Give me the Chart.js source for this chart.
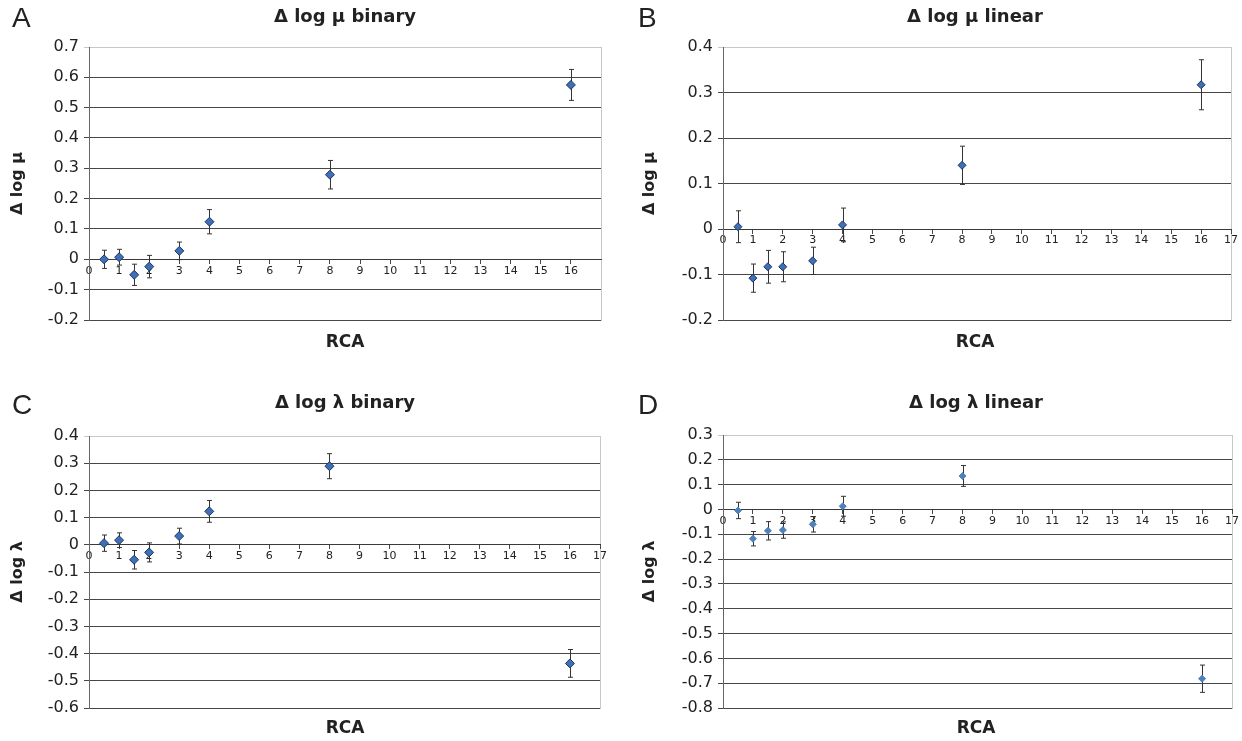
<!DOCTYPE html>
<html>
<head>
<meta charset="utf-8">
<script src="https://cdn.jsdelivr.net/npm/chart.js@4/dist/chart.umd.min.js"></script>
<style>
  body { margin: 0; background: #fff; }
  #page { position: relative; width: 1242px; height: 741px; overflow: hidden; font-family: "DejaVu Sans", sans-serif; color: #222; }
  .panel { position: absolute; }
  .letter { position: absolute; font-family: "Liberation Sans", sans-serif; font-size: 28px; line-height: 1; color: #222; }
  .title { position: absolute; font-weight: bold; font-size: 18px; line-height: 1; transform: translateX(-50%); white-space: nowrap; }
  .xlabel { position: absolute; font-weight: bold; font-size: 17px; line-height: 1; transform: translateX(-50%); }
</style>
</head>
<body>
<div id="page">
  <div class="panel" style="left:0;top:0"><canvas id="chartA" width="621" height="360"></canvas></div>
  <div class="panel" style="left:621px;top:0"><canvas id="chartB" width="621" height="360"></canvas></div>
  <div class="panel" style="left:0;top:360px"><canvas id="chartC" width="621" height="381"></canvas></div>
  <div class="panel" style="left:621px;top:360px"><canvas id="chartD" width="621" height="381"></canvas></div>

  <div class="letter" style="left:12px;top:4px">A</div>
  <div class="letter" style="left:638px;top:4px">B</div>
  <div class="letter" style="left:12px;top:391px">C</div>
  <div class="letter" style="left:638px;top:391px">D</div>

  <div class="title" style="left:345px;top:7px">Δ log μ binary</div>
  <div class="title" style="left:975px;top:7px">Δ log μ linear</div>
  <div class="title" style="left:345px;top:393px">Δ log λ binary</div>
  <div class="title" style="left:976px;top:393px">Δ log λ linear</div>

  <div class="xlabel" style="left:345px;top:333px">RCA</div>
  <div class="xlabel" style="left:975px;top:333px">RCA</div>
  <div class="xlabel" style="left:345px;top:719px">RCA</div>
  <div class="xlabel" style="left:976px;top:719px">RCA</div>
</div>

<script>
// RCA values shared by all four panels
const rca = [0.5, 1, 1.5, 2, 3, 4, 8, 16];

// Δ log μ, binary and linear (means and half-widths of the error bars)
const muBinary = [0.000, 0.007, -0.051, -0.024, 0.028, 0.124, 0.279, 0.575];
const muBinaryErr = [0.030, 0.026, 0.035, 0.037, 0.029, 0.040, 0.047, 0.051];
const muLinear = [0.005, -0.108, -0.083, -0.083, -0.070, 0.009, 0.140, 0.317];
const muLinearErr = [0.035, 0.031, 0.036, 0.033, 0.030, 0.037, 0.042, 0.055];

// Δ log λ, binary and linear
const lambdaBinary = [0.006, 0.017, -0.055, -0.028, 0.032, 0.123, 0.289, -0.436];
const lambdaBinaryErr = [0.030, 0.027, 0.034, 0.035, 0.029, 0.040, 0.046, 0.051];
const lambdaLinear = [-0.004, -0.118, -0.086, -0.083, -0.060, 0.013, 0.135, -0.682];
const lambdaLinearErr = [0.033, 0.029, 0.037, 0.033, 0.031, 0.040, 0.042, 0.055];

// tick labels
const xTicksA = [0, 1, 2, 3, 4, 5, 6, 7, 8, 9, 10, 11, 12, 13, 14, 15, 16];
const xTicks = [0, 1, 2, 3, 4, 5, 6, 7, 8, 9, 10, 11, 12, 13, 14, 15, 16, 17];
const yTicksA = [-0.2, -0.1, 0, 0.1, 0.2, 0.3, 0.4, 0.5, 0.6, 0.7];
const yTicksB = [-0.2, -0.1, 0, 0.1, 0.2, 0.3, 0.4];
const yTicksC = [-0.6, -0.5, -0.4, -0.3, -0.2, -0.1, 0, 0.1, 0.2, 0.3, 0.4];
const yTicksD = [-0.8, -0.7, -0.6, -0.5, -0.4, -0.3, -0.2, -0.1, 0, 0.1, 0.2, 0.3];

const GRID = '#474747';
const FRAME = '#c8c8c8';

// light frame round the plot area (right edge), drawn under the grid
const framePlugin = {
  id: 'frame',
  beforeDraw(chart) {
    const { ctx, chartArea: a } = chart;
    ctx.save();
    ctx.strokeStyle = FRAME;
    ctx.lineWidth = 1;
    ctx.strokeRect(a.left + 0.5, a.top + 0.5, a.right - a.left, a.bottom - a.top);
    ctx.restore();
  },
};

// vertical error bars with small caps, drawn before the markers
const errorBarPlugin = {
  id: 'errorBars',
  beforeDatasetsDraw(chart) {
    const { ctx, scales: { x, y } } = chart;
    ctx.save();
    ctx.strokeStyle = '#333';
    ctx.lineWidth = 1;
    chart.data.datasets.forEach(ds => {
      ds.data.forEach((p, i) => {
        const e = ds.errors[i];
        const px = Math.round(x.getPixelForValue(p.x)) + 0.5;
        const top = y.getPixelForValue(p.y + e);
        const bot = y.getPixelForValue(p.y - e);
        ctx.beginPath();
        ctx.moveTo(px, top); ctx.lineTo(px, bot);
        ctx.moveTo(px - 2.5, top); ctx.lineTo(px + 2.5, top);
        ctx.moveTo(px - 2.5, bot); ctx.lineTo(px + 2.5, bot);
        ctx.stroke();
      });
    });
    ctx.restore();
  },
};

function makeChart(id, values, errors, yTicks, xTickList, yTitle, layout) {
  const ctx = document.getElementById(id);
  return new Chart(ctx, {
    type: 'scatter',
    data: {
      datasets: [
        {
          data: rca.map((r, i) => ({ x: r, y: values[i] })),
          errors: errors,
          pointStyle: 'rectRot',
          pointRadius: layout.radius,
          backgroundColor: layout.fill,
          borderColor: layout.edge,
          borderWidth: 1,
        },
      ],
    },
    options: {
      responsive: false,
      animation: false,
      layout: { padding: layout.padding },
      plugins: { legend: { display: false }, tooltip: { enabled: false } },
      scales: {
        x: {
          type: 'linear',
          position: { y: 0 },
          min: 0,
          max: 17,
          afterBuildTicks: s => { s.ticks = xTickList.map(v => ({ value: v })); },
          afterFit: s => { s.height = 0; },
          grid: { drawOnChartArea: false, drawTicks: true, tickLength: 4, color: GRID },
          border: { display: true, color: '#3a3a3a', width: 1 },
          ticks: { font: { family: 'DejaVu Sans', size: 11 }, color: '#222', padding: 1, maxRotation: 0, autoSkip: false },
        },
        y: {
          min: yTicks[0],
          max: yTicks[yTicks.length - 1],
          afterBuildTicks: s => { s.ticks = yTicks.map(v => ({ value: v })); },
          afterFit: s => { s.width = layout.axisWidth; },
          grid: {
            color: c => (c.index === yTicks.length - 1 ? FRAME : GRID),
            lineWidth: 1,
            tickLength: 5,
          },
          border: { display: true, color: '#666', width: 1 },
          ticks: {
            font: { family: 'DejaVu Sans', size: 16 },
            color: '#222',
            padding: 5,
            callback: v => (Math.abs(v) < 1e-9 ? '0' : (Math.round(v * 10) / 10).toFixed(1)),
          },
          title: {
            display: true,
            text: yTitle,
            font: { family: 'DejaVu Sans', size: 16, weight: 'bold' },
            color: '#222',
            padding: { top: layout.titlePad, bottom: 0 },
          },
        },
      },
    },
    plugins: [framePlugin, errorBarPlugin],
  });
}

const darkMarker = { radius: 4.5, fill: '#3f6fb8', edge: '#1c355e' };

makeChart('chartA', muBinary, muBinaryErr, yTicksA, xTicksA, 'Δ log μ', {
  ...darkMarker, axisWidth: 89, titlePad: 8,
  padding: { top: 47, bottom: 40, left: 0, right: 20 },
});
makeChart('chartB', muLinear, muLinearErr, yTicksB, xTicks, 'Δ log μ', {
  ...darkMarker, radius: 4, axisWidth: 102, titlePad: 19,
  padding: { top: 47, bottom: 40, left: 0, right: 11 },
});
makeChart('chartC', lambdaBinary, lambdaBinaryErr, yTicksC, xTicks, 'Δ log λ', {
  ...darkMarker, axisWidth: 89, titlePad: 8,
  padding: { top: 76, bottom: 33, left: 0, right: 21 },
});
makeChart('chartD', lambdaLinear, lambdaLinearErr, yTicksD, xTicks, 'Δ log λ', {
  radius: 3.5, fill: '#4f81bd', edge: '#4f81bd', axisWidth: 102, titlePad: 19,
  padding: { top: 75, bottom: 33, left: 0, right: 10 },
});
</script>
</body>
</html>
